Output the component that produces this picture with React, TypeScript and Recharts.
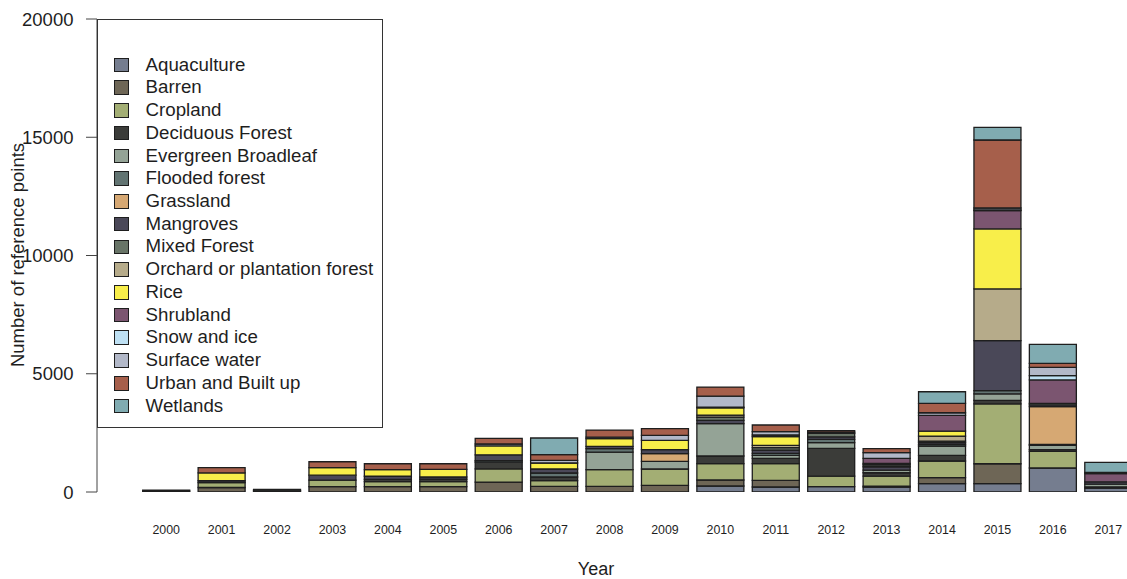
import React from 'react';
import { BarChart, Bar, XAxis, YAxis, Legend, Label } from 'recharts';

// Reference points per land-cover class and year (stacked bottom to top)
const years = [
  '2000', '2001', '2002', '2003', '2004', '2005', '2006', '2007', '2008',
  '2009', '2010', '2011', '2012', '2013', '2014', '2015', '2016', '2017',
];

const aquaculture = [0, 0, 0, 0, 0, 0, 0, 0, 0, 0, 254, 211, 225, 211, 352, 350, 1015, 170];
const barren = [40, 190, 50, 230, 230, 230, 420, 240, 240, 282, 254, 282, 0, 40, 254, 845, 0, 0];
const cropland = [0, 205, 0, 275, 205, 205, 560, 240, 704, 690, 690, 704, 450, 423, 704, 2535, 705, 0];
const deciduousForest = [40, 0, 60, 0, 95, 105, 280, 155, 0, 0, 324, 225, 1170, 140, 240, 140, 70, 50];
const evergreenBroadleaf = [0, 0, 0, 0, 0, 0, 0, 0, 746, 324, 1366, 127, 240, 113, 394, 280, 180, 110];
const floodedForest = [0, 0, 0, 0, 0, 0, 70, 169, 140, 0, 0, 85, 140, 0, 70, 140, 40, 0];
const grassland = [0, 0, 0, 0, 0, 0, 0, 0, 0, 324, 0, 0, 0, 0, 0, 0, 1600, 0];
const mangroves = [0, 80, 0, 205, 135, 95, 240, 169, 100, 169, 140, 140, 110, 140, 70, 2113, 70, 100];
const mixedForest = [0, 0, 0, 0, 0, 0, 0, 0, 0, 0, 140, 100, 140, 85, 70, 0, 70, 0];
const orchard = [0, 0, 0, 0, 0, 0, 0, 0, 0, 0, 85, 100, 0, 60, 211, 2185, 0, 0];
const rice = [0, 330, 0, 320, 280, 320, 380, 254, 324, 394, 310, 366, 0, 0, 211, 2535, 0, 0];
const shrubland = [0, 0, 0, 0, 0, 0, 0, 0, 0, 0, 0, 70, 60, 211, 662, 775, 990, 350];
const snowAndIce = [0, 0, 0, 0, 0, 0, 0, 0, 0, 0, 30, 0, 0, 0, 0, 30, 180, 0];
const surfaceWater = [0, 0, 0, 0, 0, 0, 80, 113, 70, 211, 465, 140, 0, 240, 113, 80, 350, 0];
const urban = [0, 222, 0, 250, 250, 240, 240, 240, 296, 282, 380, 282, 60, 170, 394, 2875, 170, 50];
const wetlands = [0, 0, 0, 0, 0, 0, 0, 704, 0, 0, 0, 0, 0, 0, 493, 535, 800, 420];

const yTicks = [0, 5000, 10000, 15000, 20000];

const series = [
  { name: 'Aquaculture', values: aquaculture, color: '#757d8f' },
  { name: 'Barren', values: barren, color: '#6e6656' },
  { name: 'Cropland', values: cropland, color: '#a3ae74' },
  { name: 'Deciduous Forest', values: deciduousForest, color: '#3b3c39' },
  { name: 'Evergreen Broadleaf', values: evergreenBroadleaf, color: '#94a396' },
  { name: 'Flooded forest', values: floodedForest, color: '#627472' },
  { name: 'Grassland', values: grassland, color: '#d6a873' },
  { name: 'Mangroves', values: mangroves, color: '#4a4858' },
  { name: 'Mixed Forest', values: mixedForest, color: '#687467' },
  { name: 'Orchard or plantation forest', values: orchard, color: '#b6ab8a' },
  { name: 'Rice', values: rice, color: '#f8ee4a' },
  { name: 'Shrubland', values: shrubland, color: '#7b5570' },
  { name: 'Snow and ice', values: snowAndIce, color: '#bee0f3' },
  { name: 'Surface water', values: surfaceWater, color: '#b2b8c8' },
  { name: 'Urban and Built up', values: urban, color: '#a65f4b' },
  { name: 'Wetlands', values: wetlands, color: '#80abb1' },
];

const rows = years.map((year, i) => {
  const row: Record<string, string | number> = { year };
  series.forEach((s) => {
    row[s.name] = s.values[i];
  });
  return row;
});

const FONT = '"Liberation Sans", Arial, Helvetica, sans-serif';
const TEXT = '#1e1e1e';
const EDGE = '#1e1e1e';

const LegendBox = () => (
  <div
    style={{
      position: 'relative',
      width: 286,
      height: 409,
      boxSizing: 'border-box',
      border: '1px solid #333',
      background: '#fff',
      fontFamily: FONT,
      fontSize: 18.7,
      color: TEXT,
    }}
  >
    {series.map((s, i) => (
      <div
        key={s.name}
        style={{
          position: 'absolute',
          left: 0,
          top: 46 - 11.4 + i * 22.73 - 1,
          height: 22.8,
          display: 'flex',
          alignItems: 'center',
          whiteSpace: 'nowrap',
        }}
      >
        <span
          style={{
            display: 'inline-block',
            marginLeft: 16,
            width: 14.6,
            height: 14.6,
            boxSizing: 'border-box',
            background: s.color,
            border: `1.3px solid ${EDGE}`,
          }}
        />
        <span style={{ marginLeft: 17, lineHeight: '22.8px' }}>{s.name}</span>
      </div>
    ))}
  </div>
);

const YearTitle = () => (
  <text x={596} y={575} textAnchor="middle" fontFamily={FONT} fontSize={18} fill={TEXT}>
    Year
  </text>
);

const CountTitle = () => (
  <text
    x={24.3}
    y={255}
    transform="rotate(-90 24.3 255)"
    textAnchor="middle"
    fontFamily={FONT}
    fontSize={18.5}
    fill={TEXT}
  >
    Number of reference points
  </text>
);

export default function App() {
  return (
    <div
      style={{
        position: 'absolute',
        left: 0,
        top: 0,
        width: 1127,
        height: 579,
        overflow: 'hidden',
        background: '#fff',
      }}
    >
      <BarChart
        width={1136}
        height={579}
        data={rows}
        margin={{ top: 19, right: 0, bottom: 0, left: 0 }}
        barCategoryGap={4.2}
      >
        <XAxis
          dataKey="year"
          height={87}
          axisLine={false}
          tickLine={false}
          tickSize={0}
          tickMargin={32.7}
          interval={0}
          padding={{ left: 41.5, right: 0 }}
          tick={{ fontFamily: FONT, fontSize: 12.4, fill: TEXT }}
        >
          <Label content={<YearTitle />} />
        </XAxis>
        <YAxis
          width={97}
          domain={[0, 20000]}
          ticks={yTicks}
          interval={0}
          allowDataOverflow
          tickSize={11}
          tickMargin={12.5}
          stroke="#444"
          tick={{ fontFamily: FONT, fontSize: 18.5, fill: TEXT }}
        >
          <Label content={<CountTitle />} />
        </YAxis>
        <Legend
          layout="vertical"
          align="center"
          verticalAlign="middle"
          wrapperStyle={{ left: 97, top: 19, width: 286, height: 409 }}
          content={<LegendBox />}
        />
        {series.map((s) => (
          <Bar
            key={s.name}
            dataKey={s.name}
            stackId="points"
            fill={s.color}
            stroke={EDGE}
            strokeWidth={1.3}
            isAnimationActive={false}
          />
        ))}
      </BarChart>
    </div>
  );
}
